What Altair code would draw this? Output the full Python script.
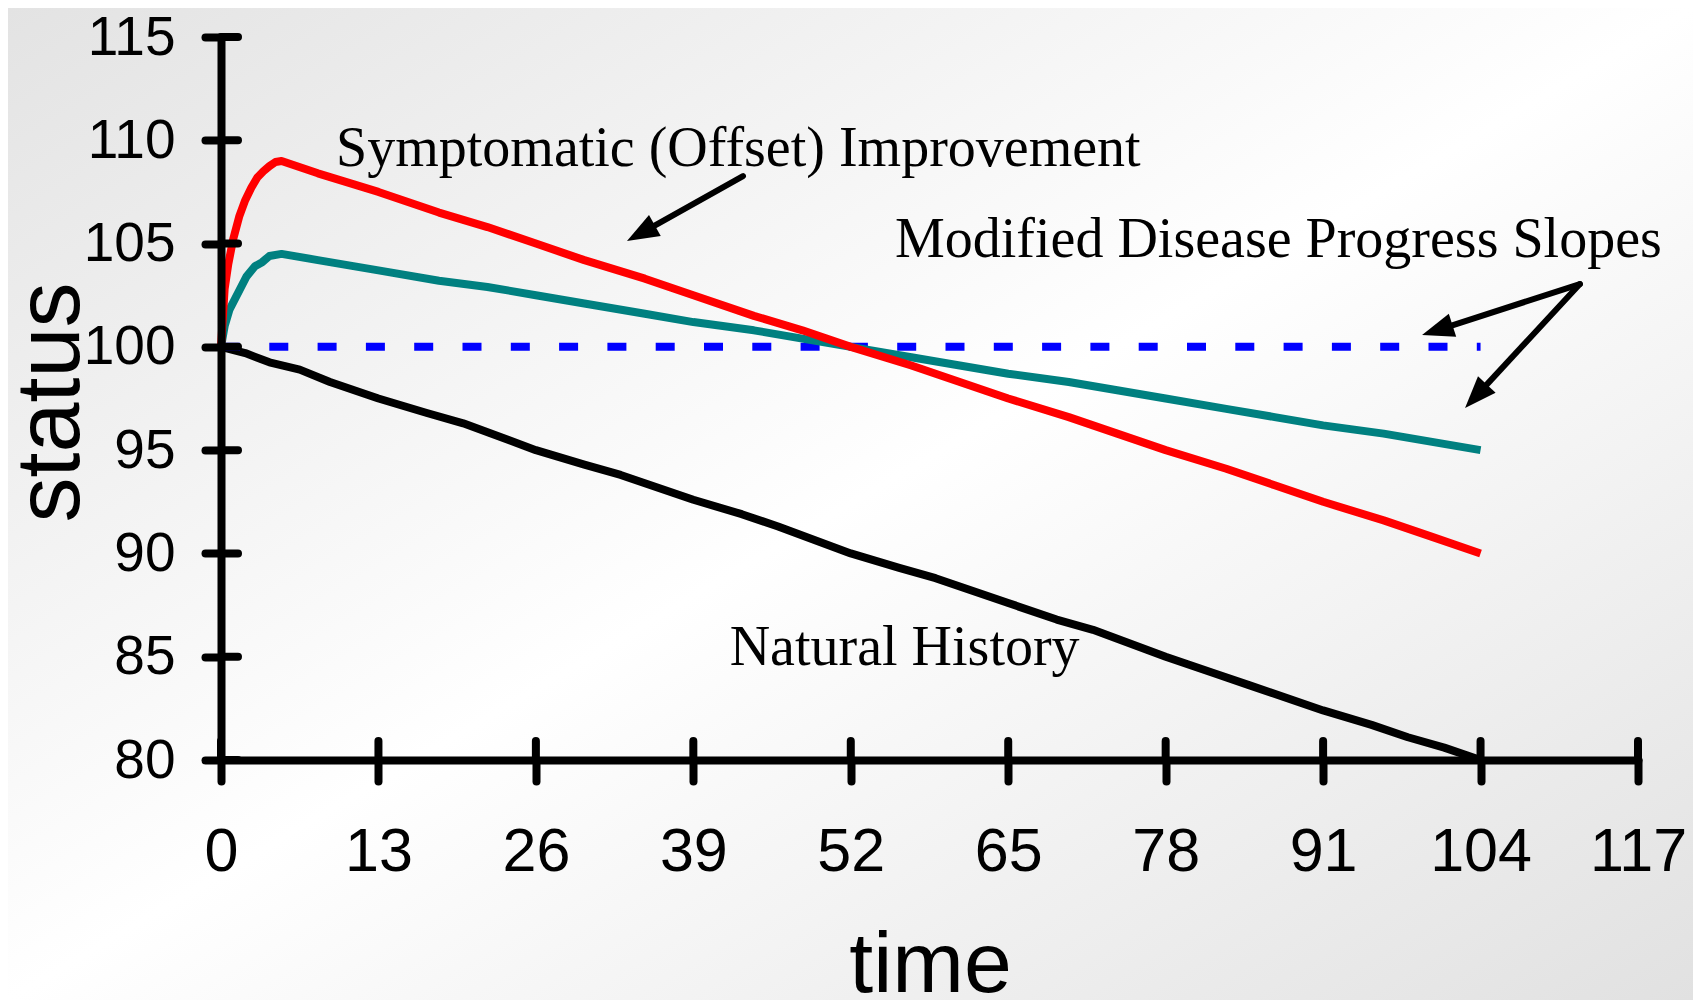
import math
import altair as alt
import pandas as pd

# ---------------- data ----------------
natural_weeks = [0, 2, 4, 6.5, 9, 13, 17, 20, 26, 30, 33, 39, 43, 46, 52, 56, 59, 65,
                 69, 72, 78, 82, 85, 91, 95, 98, 101, 104]
natural_status = [100, 99.7, 99.25, 98.9, 98.3, 97.5, 96.8, 96.3, 95.0, 94.3, 93.8, 92.6,
                  91.9, 91.3, 90.0, 89.3, 88.8, 87.6, 86.8, 86.3, 85.0, 84.2, 83.6, 82.4,
                  81.7, 81.1, 80.6, 80.0]

offset_weeks = [0, 0.3, 0.6, 1, 1.5, 2, 2.5, 3, 3.5, 4, 4.5, 5, 8, 13, 18, 22, 26, 30, 35,
                39, 44, 48, 52, 57, 61, 65, 70, 74, 78, 83, 87, 91, 96, 100, 104]
offset_status = [100, 102.8, 104.0, 105.2, 106.3, 107.1, 107.7, 108.2, 108.5, 108.75,
                 108.95, 109.0, 108.4, 107.5, 106.5, 105.8, 105.0, 104.2, 103.3, 102.5,
                 101.5, 100.8, 100.0, 99.1, 98.3, 97.5, 96.6, 95.8, 95.0, 94.1, 93.3,
                 92.5, 91.6, 90.8, 90.0]

slope_weeks = [0, 0.3, 0.7, 1.4, 2.1, 2.8, 3.4, 4, 5, 8, 13, 18, 22, 26, 30, 35, 39, 44,
               48, 52, 57, 61, 65, 70, 74, 78, 83, 87, 91, 96, 100, 104]
slope_status = [100, 101.0, 101.8, 102.6, 103.4, 103.9, 104.1, 104.4, 104.5, 104.2, 103.7,
                103.2, 102.9, 102.5, 102.1, 101.6, 101.2, 100.8, 100.4, 100.0, 99.5, 99.1,
                98.7, 98.3, 97.9, 97.5, 97.0, 96.6, 96.2, 95.8, 95.4, 95.0]

flat_weeks = [0, 104]
flat_status = [100, 100]

x_ticks = [0, 13, 26, 39, 52, 65, 78, 91, 104, 117]
y_ticks = [80, 85, 90, 95, 100, 105, 110, 115]

note_text = ["Symptomatic (Offset) Improvement", "Modified Disease Progress Slopes",
             "Natural History"]
note_x = [9.5, 55.65, 42.0]
note_y = [108.75, 104.35, 84.6]

# arrows: start (x, y) -> tip (x, y)
arrow_sx = [43.1, 112.2, 112.2]
arrow_sy = [108.27, 103.04, 103.04]
arrow_tx = [33.52, 99.17, 102.72]
arrow_ty = [105.12, 100.57, 97.04]

# ---------------- layout ----------------
W, H = 1417, 723
PAD_L, PAD_T, PAD_R, PAD_B = 213, 29, 55, 240
X_DOM = [0, 117]
Y_DOM = [80, 115]
px_x = W / (X_DOM[1] - X_DOM[0])
px_y = H / (Y_DOM[1] - Y_DOM[0])

SANS = "Liberation Sans, Arial, sans-serif"
NARROW = "Liberation Sans Narrow, Arial Narrow, Liberation Sans, Arial, sans-serif"
SERIF = "Liberation Serif, Times New Roman, serif"

xscale = alt.Scale(domain=X_DOM, nice=False, zero=False)
yscale = alt.Scale(domain=Y_DOM, nice=False, zero=False)

xaxis = alt.Axis(values=x_ticks, title="time", grid=False, zindex=1,
                 labelFont=NARROW, labelFontSize=61, labelColor="black",
                 labelPadding=41, labelFlush=False, labelOverlap=False, labelBound=False,
                 tickSize=21, tickWidth=8, tickColor="black", tickCap="round",
                 domainColor="black", domainWidth=8, domainCap="round",
                 titleFont=NARROW, titleFontSize=86, titleFontWeight="normal",
                 titleColor="black", titleX=709, titleY=231,
                 titleBaseline="alphabetic", titleAlign="center")
yaxis = alt.Axis(values=y_ticks, title="status", grid=False, zindex=1,
                 labelFont=SANS, labelFontSize=55, labelColor="black",
                 labelPadding=30, labelFlush=False, labelOverlap=False, labelBound=False,
                 tickSize=16, tickWidth=8, tickColor="black", tickCap="round",
                 domainColor="black", domainWidth=8, domainCap="round",
                 titleFont=SANS, titleFontSize=90, titleFontWeight="normal",
                 titleColor="black", titleAngle=270, titleX=-143, titleY=365,
                 titleBaseline="alphabetic", titleAlign="center")


def X(f):
    return alt.X(f, type="quantitative", scale=xscale, axis=xaxis)


def Y(f):
    return alt.Y(f, type="quantitative", scale=yscale, axis=yaxis)


# ---------------- background ----------------
bg = alt.Chart(pd.DataFrame({"a": [0]})).mark_rect(
    fill=alt.Gradient(gradient="linear", x1=0, y1=0, x2=1, y2=1,
                      stops=[alt.GradientStop(color="#e3e3e3", offset=0),
                             alt.GradientStop(color="#ffffff", offset=0.5),
                             alt.GradientStop(color="#e1e1e1", offset=1)]),
    strokeWidth=0,
).encode(x=alt.value(-PAD_L), x2=alt.value(W + PAD_R),
         y=alt.value(-PAD_T), y2=alt.value(H + PAD_B))

# ---------------- inner halves of ticks ----------------
ytick_df = pd.DataFrame({"v": y_ticks})
xtick_df = pd.DataFrame({"v": x_ticks})
ytick_in = alt.Chart(ytick_df).mark_rule(color="black", strokeWidth=8, strokeCap="round").encode(
    y=Y("v"), x=alt.value(0), x2=alt.value(17))
xtick_in = alt.Chart(xtick_df).mark_rule(color="black", strokeWidth=8, strokeCap="round").encode(
    x=X("v"), y=alt.value(H), y2=alt.value(H - 19))

# ---------------- lines ----------------
def line(weeks, status, color, **kw):
    df = pd.DataFrame({"week": weeks, "status": status})
    return alt.Chart(df).mark_line(color=color, strokeWidth=8, **kw).encode(
        x=X("week"), y=Y("status"))


natural = line(natural_weeks, natural_status, "#000000", strokeJoin="round")
flat = line(flat_weeks, flat_status, "#0000FF", strokeDash=[19, 29.3])
slope = line(slope_weeks, slope_status, "#008080", strokeJoin="round")
offset = line(offset_weeks, offset_status, "#FF0000", strokeJoin="round")

# ---------------- annotations ----------------
notes = alt.Chart(pd.DataFrame({"t": note_text, "x": note_x, "y": note_y})).mark_text(
    font=SERIF, fontSize=56, color="black", align="left", baseline="alphabetic"
).encode(x=X("x"), y=Y("y"), text="t:N")

rows = []
for sx, sy, tx, ty in zip(arrow_sx, arrow_sy, arrow_tx, arrow_ty):
    dxp = (tx - sx) * px_x
    dyp = -(ty - sy) * px_y
    L = math.hypot(dxp, dyp)
    ang = math.degrees(math.atan2(dxp, -dyp)) % 360
    back = 22
    ex = tx - back * dxp / L / px_x
    ey = ty + back * dyp / L / px_y
    rows.append({"sx": sx, "sy": sy, "ex": ex, "ey": ey, "tx": tx, "ty": ty, "ang": ang})
arrow_df = pd.DataFrame(rows)

shafts = alt.Chart(arrow_df).mark_rule(color="black", strokeWidth=6, strokeCap="round").encode(
    x=X("sx"), y=Y("sy"), x2="ex:Q", y2="ey:Q")
heads = alt.Chart(arrow_df).mark_point(
    shape="M0,0L-0.75,2L0.75,2Z", filled=True, size=1024, color="black", opacity=1,
    strokeWidth=0
).encode(x=X("tx"), y=Y("ty"), angle=alt.Angle("ang:Q", scale=None))

chart = alt.layer(bg, natural, flat, slope, offset, ytick_in, xtick_in, notes, shafts, heads).properties(
    width=W, height=H,
    autosize=alt.AutoSizeParams(type="none"),
    padding={"left": PAD_L, "top": PAD_T, "right": PAD_R, "bottom": PAD_B},
).configure_view(stroke=None)

chart.save("out.html", embed_options={"renderer": "svg", "actions": False})
